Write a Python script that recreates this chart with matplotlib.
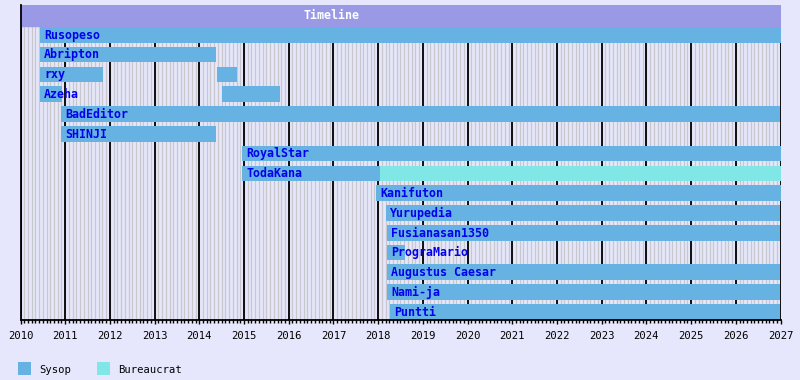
import numpy as np
import matplotlib.pyplot as plt
import matplotlib.transforms as mtransforms
from matplotlib.patches import Rectangle

### data ###

names = ["Rusopeso", "Abripton", "rxy", "Azeha", "BadEditor", "SHINJI",
         "RoyalStar", "TodaKana", "Kanifuton", "Yurupedia", "Fusianasan1350",
         "PrograMario", "Augustus Caesar", "Nami-ja", "Puntti"]

# one entry per bar segment: row index, start, end (decimal years), role
seg_row = [0, 1, 2, 2, 3, 3, 4, 5, 6, 7, 7, 8, 9, 10, 11, 12, 13, 14]
seg_start = [2010.44, 2010.44, 2010.44, 2014.40, 2010.44, 2014.51, 2010.91, 2010.91,
             2014.96, 2014.96, 2018.04, 2017.95, 2018.18, 2018.20, 2018.20, 2018.20,
             2018.20, 2018.27]
seg_end = [2027.0, 2014.37, 2011.85, 2014.84, 2010.93, 2015.80, 2027.0, 2014.37,
           2027.0, 2018.04, 2027.0, 2027.0, 2027.0, 2027.0, 2018.61, 2027.0,
           2027.0, 2027.0]
seg_role = ["Sysop"] * 10 + ["Bureaucrat"] + ["Sysop"] * 7

roles = ["Sysop", "Bureaucrat"]
role_colors = {"Sysop": "#66b2e3", "Bureaucrat": "#80e6e6"}

x_min, x_max = 2010, 2027

### plot ###

bg = "#e6e6fc"
plt.rcParams["font.family"] = "DejaVu Sans Mono"

fig = plt.figure(figsize=(8, 3.8), dpi=100, facecolor=bg)
W, H = 800, 380
ax_top, ax_bot = 5, 320.3
ax = fig.add_axes([20.5 / W, (H - ax_bot) / H, 760 / W, (ax_bot - ax_top) / H])
ax.set_facecolor(bg)
ax.set_xlim(x_min, x_max)
ax.set_ylim(ax_bot, ax_top)  # pixel rows, top down

# grid
months = np.arange(x_min, x_max + 1e-9, 1 / 12)
years = np.arange(x_min, x_max + 1)
ax.vlines(months, ax_top, ax_bot, color="#c8c8cc", lw=0.9, zorder=1)
ax.vlines(years, ax_top, ax_bot, color="black", lw=1.3, zorder=2)

# title bar
ax.axhspan(ax_top, 25.7, color="#9999e6", zorder=3)
ax.text(2016.95, 15.3, "Timeline", color="white", fontsize=8.4, fontweight="bold",
        ha="center", va="center", zorder=4)

row_top0, row_step, bar_h = 27.0, 19.79, 15.7
for r, s, e, role in zip(seg_row, seg_start, seg_end, seg_role):
    ax.add_patch(Rectangle((s, row_top0 + r * row_step), e - s, bar_h,
                           facecolor=role_colors[role], edgecolor="none", zorder=5))

offset = mtransforms.offset_copy(ax.transData, fig=fig, x=4, y=0, units="dots")
for i, name in enumerate(names):
    starts = [s for r, s in zip(seg_row, seg_start) if r == i]
    ax.text(min(starts), row_top0 + i * row_step + bar_h / 2 + 0.3, name, transform=offset,
            color="#0000ee", fontsize=8.4, fontweight="bold", ha="left", va="center",
            zorder=6)

for side in ["top", "right"]:
    ax.spines[side].set_visible(False)
for side in ["left", "bottom"]:
    ax.spines[side].set_color("black")
    ax.spines[side].set_linewidth(1.3)
    ax.spines[side].set_zorder(7)

ax.set_yticks([])
ax.set_xticks(years)
ax.set_xticks(months, minor=True)
ax.tick_params(axis="x", which="major", length=3, width=1.0, color="black",
               labelsize=7.6, pad=5)
ax.tick_params(axis="x", which="minor", length=2.5, width=1.0, color="black")

# legend
for j, role in enumerate(roles):
    x0 = 18 + j * 79
    fig.add_artist(Rectangle((x0 / W, (H - 375) / H), 13 / W, 13 / H,
                             transform=fig.transFigure, facecolor=role_colors[role],
                             edgecolor="none"))
    fig.text((x0 + 21) / W, (H - 370) / H, role, fontsize=7.6, va="center", ha="left",
             color="black")

fig.savefig("out.png", dpi=100, facecolor=bg)
